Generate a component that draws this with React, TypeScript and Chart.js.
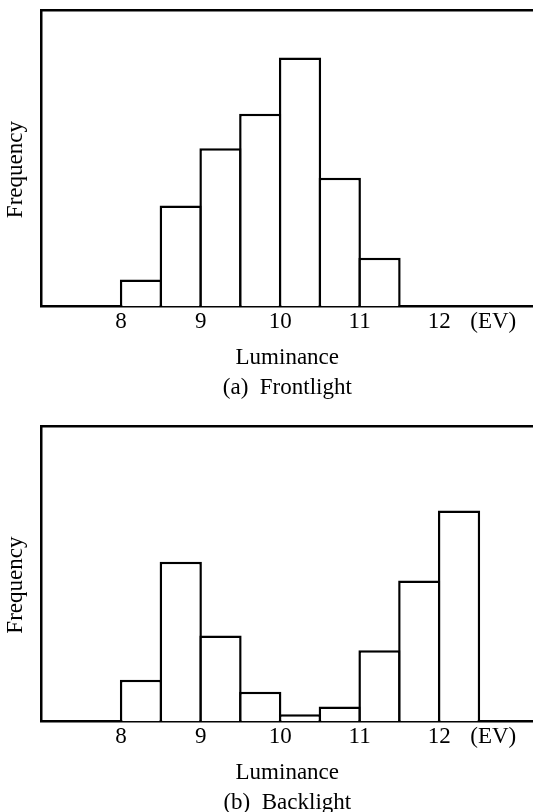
import React, { useEffect, useRef } from "react";
import { Chart, registerables } from "chart.js";

Chart.register(...registerables);

const FONT_FAMILY = "'Liberation Serif', 'Times New Roman', serif";
const FONT_SIZE = 23;
const LINE_W = 2.5;

// x axis (luminance, EV)
const X_MIN = 7;
const X_MAX = 13.18;
const xTickValues = [8, 9, 10, 11, 12, 12.68];
const xTickLabels = ["8", "9", "10", "11", "12", "(EV)"];
const Y_MAX = 300;

// (a) Frontlight
const frontBinCenters = [8.25, 8.75, 9.25, 9.75, 10.25, 10.75, 11.25];
const frontFrequency = [27, 102, 160, 195, 252, 130, 49];

// (b) Backlight
const backBinCenters = [8.25, 8.75, 9.25, 9.75, 10.25, 10.75, 11.25, 11.75, 12.25];
const backFrequency = [42, 162, 87, 30, 7, 15, 72, 143, 214];

const xAxisTitle = "Luminance";
const yAxisTitle = "Frequency";
const frontCaption = "(a)  Frontlight";
const backCaption = "(b)  Backlight";

type Props = {
  centers: number[];
  values: number[];
  caption: string;
  height: number;
  topPad: number;
};

function Histogram({ centers, values, caption, height, topPad }: Props) {
  const ref = useRef<HTMLCanvasElement | null>(null);

  useEffect(() => {
    if (!ref.current) return;
    const font = { family: FONT_FAMILY, size: FONT_SIZE, weight: "normal" as const };
    const chart = new Chart(ref.current, {
      type: "bar",
      data: {
        datasets: [
          {
            data: centers.map((c, i) => ({ x: c, y: values[i] })),
            backgroundColor: "#ffffff",
            borderColor: "#000000",
            borderWidth: LINE_W,
            barPercentage: 1.063,
            categoryPercentage: 1,
          },
        ],
      },
      options: {
        animation: false,
        responsive: false,
        devicePixelRatio: 1,
        layout: { padding: { top: topPad, left: 0, right: 0, bottom: 0 } },
        plugins: {
          legend: { display: false },
          tooltip: { enabled: false },
          title: {
            display: true,
            text: caption,
            position: "bottom",
            fullSize: false,
            color: "#000",
            font,
            padding: { top: 3, bottom: 0 },
          },
        },
        scales: {
          x: {
            type: "linear",
            min: X_MIN,
            max: X_MAX,
            offset: false,
            z: 1,
            grid: { display: false, drawTicks: false, offset: false },
            border: { display: true, color: "#000", width: LINE_W },
            afterBuildTicks: (axis: any) => {
              axis.ticks = xTickValues.map((v) => ({ value: v }));
            },
            ticks: {
              autoSkip: false,
              maxRotation: 0,
              padding: 2,
              color: "#000",
              font,
              callback: (_v: any, i: number) => xTickLabels[i],
            },
            title: {
              display: true,
              text: xAxisTitle,
              color: "#000",
              font,
              padding: { top: 6, bottom: 0 },
            },
          },
          xTop: {
            type: "linear",
            position: "top",
            min: X_MIN,
            max: X_MAX,
            offset: false,
            z: 1,
            grid: { display: false, drawTicks: false },
            border: { display: true, color: "#000", width: LINE_W },
            ticks: { display: false },
          },
          y: {
            type: "linear",
            min: 0,
            max: Y_MAX,
            z: 1,
            grid: { display: false, drawTicks: false },
            border: { display: true, color: "#000", width: LINE_W },
            ticks: { display: false },
            title: {
              display: true,
              text: yAxisTitle + "    ",
              color: "#000",
              font,
              padding: { top: 2, bottom: 12 },
            },
          },
        },
      } as any,
    });
    return () => chart.destroy();
  }, [centers, values, caption, height, topPad]);

  return (
    <canvas
      ref={ref}
      width={533}
      height={height}
      style={{ display: "block", width: 533, height }}
    />
  );
}

export default function App() {
  return (
    <div
      style={{
        position: "absolute",
        left: 0,
        top: 0,
        width: 533,
        height: 812,
        overflow: "hidden",
        background: "#fff",
      }}
    >
      <Histogram
        centers={frontBinCenters}
        values={frontFrequency}
        caption={frontCaption}
        height={402}
        topPad={10}
      />
      <Histogram
        centers={backBinCenters}
        values={backFrequency}
        caption={backCaption}
        height={415}
        topPad={24}
      />
    </div>
  );
}
